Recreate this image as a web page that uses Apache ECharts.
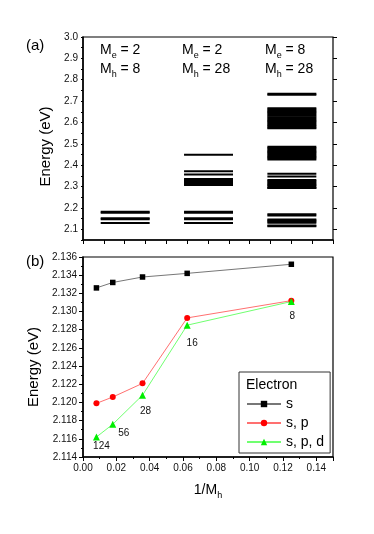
<!DOCTYPE html>
<html>
<head>
<meta charset="utf-8">
<script src="https://cdn.jsdelivr.net/npm/echarts@6/dist/echarts.min.js"></script>
<style>
html, body { margin: 0; padding: 0; background: #fff; }
#chart { width: 374px; height: 534px; }
</style>
</head>
<body>
<div id="chart"></div>
<script>
// (a) energy levels (eV) for each case
var levelsCase1 = [2.182, 2.178, 2.152, 2.147, 2.129];
var levelsCase2 = [2.449, 2.372, 2.357, 2.336, 2.331, 2.326, 2.321, 2.316, 2.311, 2.307,
  2.182, 2.178, 2.152, 2.147, 2.129];
var levelsCase3 = [2.734, 2.730,
  2.667, 2.661, 2.655, 2.649, 2.643, 2.637, 2.631, 2.625, 2.619, 2.613, 2.607, 2.601, 2.595, 2.589, 2.583, 2.577, 2.573,
  2.486, 2.480, 2.474, 2.468, 2.462, 2.456, 2.450, 2.444, 2.438, 2.432, 2.427,
  2.360, 2.347, 2.331, 2.325, 2.319, 2.313, 2.307, 2.301, 2.295, 2.293,
  2.170, 2.165, 2.146, 2.141, 2.136, 2.131, 2.118, 2.114];
var caseMe = ['2', '2', '8'];
var caseMh = ['8', '28', '28'];
var ticksA = [2.1, 2.2, 2.3, 2.4, 2.5, 2.6, 2.7, 2.8, 2.9, 3.0];

// (b) lowest level vs 1/Mh
var mhValues = ['124', '56', '28', '16', '8'];
var invMh = [0.00806, 0.01786, 0.03571, 0.0625, 0.125];
var energyS = [2.1326, 2.1332, 2.1338, 2.1342, 2.1352];
var energySP = [2.1199, 2.1206, 2.1221, 2.1293, 2.1312];
var energySPD = [2.1162, 2.1176, 2.1208, 2.1285, 2.1311];
var seriesNames = ['s', 's, p', 's, p, d'];

var FONT = 'Liberation Sans, Arial, sans-serif';
var chart = echarts.init(document.getElementById('chart'));

// where each case's levels sit along the (unlabelled) x axis of panel (a)
var colStart = [0.85, 4.85, 8.85];
var colWidth = 2.35;
var colLeftPx = [100, 182, 265];

var levelData = [];
[levelsCase1, levelsCase2, levelsCase3].forEach(function (arr, c) {
  arr.forEach(function (e) { levelData.push([c, e]); });
});

function pairs(xs, ys) {
  return xs.map(function (x, i) { return [x, ys[i]]; });
}

var subRich = {
  a: { fontSize: 14, lineHeight: 19, fontWeight: 'normal', fontFamily: FONT, color: '#000' },
  s: { fontSize: 9, lineHeight: 8, verticalAlign: 'bottom', fontWeight: 'normal', fontFamily: FONT, color: '#000' }
};

var titles = [
  { text: '(a)', left: 26, top: 38 },
  { text: '(b)', left: 26, top: 254 },
  { text: 'Electron', left: 246, top: 378, textStyle: { fontSize: 14, fontWeight: 'normal', fontFamily: FONT, color: '#000' } }
];
titles.forEach(function (t) {
  t.padding = 0;
  if (!t.textStyle) t.textStyle = { fontSize: 15, fontWeight: 'normal', fontFamily: FONT, color: '#000' };
});
caseMe.forEach(function (me, i) {
  titles.push({
    text: '{a|M}{s|e}{a| = ' + me + '}\n{a|M}{s|h}{a| = ' + caseMh[i] + '}',
    left: colLeftPx[i], top: 41, padding: 0,
    textStyle: { fontWeight: 'normal', rich: subRich }
  });
});

var labelOffsets = [[5, 9], [11, 9], [3, 16], [5, 18], [1, 15]];

var axisLine = { show: true, lineStyle: { color: '#000', width: 1.5 } };
var labelStyle = { color: '#111', fontSize: 10, fontFamily: FONT };

var option = {
  animation: false,
  backgroundColor: '#fff',
  textStyle: { fontFamily: FONT },
  title: titles,
  grid: [
    { left: 83, top: 37, width: 250, height: 203, show: true, borderColor: '#000', borderWidth: 1.2, backgroundColor: 'transparent' },
    { left: 83, top: 257, width: 250, height: 200, show: true, borderColor: '#000', borderWidth: 1.2, backgroundColor: 'transparent' }
  ],
  xAxis: [
    {
      gridIndex: 0, type: 'value', min: 0, max: 12, interval: 1,
      axisLine: axisLine,
      axisTick: { show: true, length: 4, inside: false, lineStyle: { color: '#000' } },
      axisLabel: { show: false },
      splitLine: { show: false }
    },
    {
      gridIndex: 1, type: 'value', min: 0, max: 0.15, interval: 0.02,
      axisLine: axisLine,
      axisTick: { show: true, length: 4, lineStyle: { color: '#000' } },
      minorTick: { show: true, splitNumber: 2, length: 2, lineStyle: { color: '#000' } },
      axisLabel: Object.assign({ margin: 6, showMaxLabel: false, formatter: function (v) { return v.toFixed(2); } }, labelStyle),
      splitLine: { show: false },
      name: '{a|1/M}{s|h}', nameLocation: 'middle', nameGap: 24,
      nameTextStyle: { rich: subRich }
    }
  ],
  yAxis: [
    {
      gridIndex: 0, type: 'value', min: 2.05, max: 3.0, interval: 0.05,
      axisLine: axisLine,
      axisTick: { show: true, length: 2, lineStyle: { color: '#000' } },
      axisLabel: Object.assign({ margin: 5, customValues: ticksA, formatter: function (v) { return v.toFixed(1); } }, labelStyle),
      splitLine: { show: false },
      name: 'Energy (eV)', nameLocation: 'middle', nameGap: 28,
      nameTextStyle: { fontSize: 15, fontFamily: FONT, color: '#000', padding: [0, 16, 0, 0] }
    },
    {
      gridIndex: 0, type: 'value', min: 2.05, max: 3.0,
      axisLine: { show: false },
      axisTick: { show: true, length: 4, customValues: ticksA, lineStyle: { color: '#000' } },
      axisLabel: { show: false },
      splitLine: { show: false }
    },
    {
      gridIndex: 1, type: 'value', min: 2.114, max: 2.136, interval: 0.002,
      axisLine: axisLine,
      axisTick: { show: true, length: 4, lineStyle: { color: '#000' } },
      minorTick: { show: true, splitNumber: 2, length: 2, lineStyle: { color: '#000' } },
      axisLabel: Object.assign({ margin: 6, formatter: function (v) { return v.toFixed(3); } }, labelStyle),
      splitLine: { show: false },
      name: 'Energy (eV)', nameLocation: 'middle', nameGap: 39,
      nameTextStyle: { fontSize: 15, fontFamily: FONT, color: '#000', padding: [0, 20, 0, 0] }
    }
  ],
  legend: {
    data: seriesNames,
    orient: 'vertical',
    left: 239, top: 372,
    padding: [25, 6, 4, 7],
    borderColor: '#333', borderWidth: 1,
    itemWidth: 34, itemHeight: 8, itemGap: 5,
    textStyle: { fontSize: 14, fontFamily: FONT, color: '#000' }
  },
  series: [
    {
      type: 'custom',
      xAxisIndex: 0, yAxisIndex: 0,
      data: levelData,
      encode: { x: 0, y: 1 },
      renderItem: function (params, api) {
        var c = api.value(0), e = api.value(1);
        var p0 = api.coord([colStart[c], e]);
        var p1 = api.coord([colStart[c] + colWidth, e]);
        return {
          type: 'line',
          shape: { x1: p0[0], y1: p0[1], x2: p1[0], y2: p1[1] },
          style: { stroke: '#000', lineWidth: 2 }
        };
      }
    },
    {
      name: seriesNames[0], type: 'line', xAxisIndex: 1, yAxisIndex: 2,
      data: pairs(invMh, energyS),
      symbol: 'rect', symbolSize: 5.5,
      itemStyle: { color: '#000' },
      lineStyle: { color: '#777', width: 1 }
    },
    {
      name: seriesNames[1], type: 'line', xAxisIndex: 1, yAxisIndex: 2,
      data: pairs(invMh, energySP),
      symbol: 'circle', symbolSize: 6,
      itemStyle: { color: '#ff0000' },
      lineStyle: { color: '#ff7070', width: 1 }
    },
    {
      name: seriesNames[2], type: 'line', xAxisIndex: 1, yAxisIndex: 2,
      data: pairs(invMh, energySPD).map(function (p, i) {
        return {
          value: p,
          label: { show: true, position: 'inside', offset: labelOffsets[i], formatter: mhValues[i] }
        };
      }),
      symbol: 'triangle', symbolSize: 7,
      itemStyle: { color: '#00ee00' },
      lineStyle: { color: '#70ff70', width: 1 },
      label: { color: '#111', fontSize: 10, fontFamily: FONT }
    }
  ]
};

chart.setOption(option);
</script>
</body>
</html>
